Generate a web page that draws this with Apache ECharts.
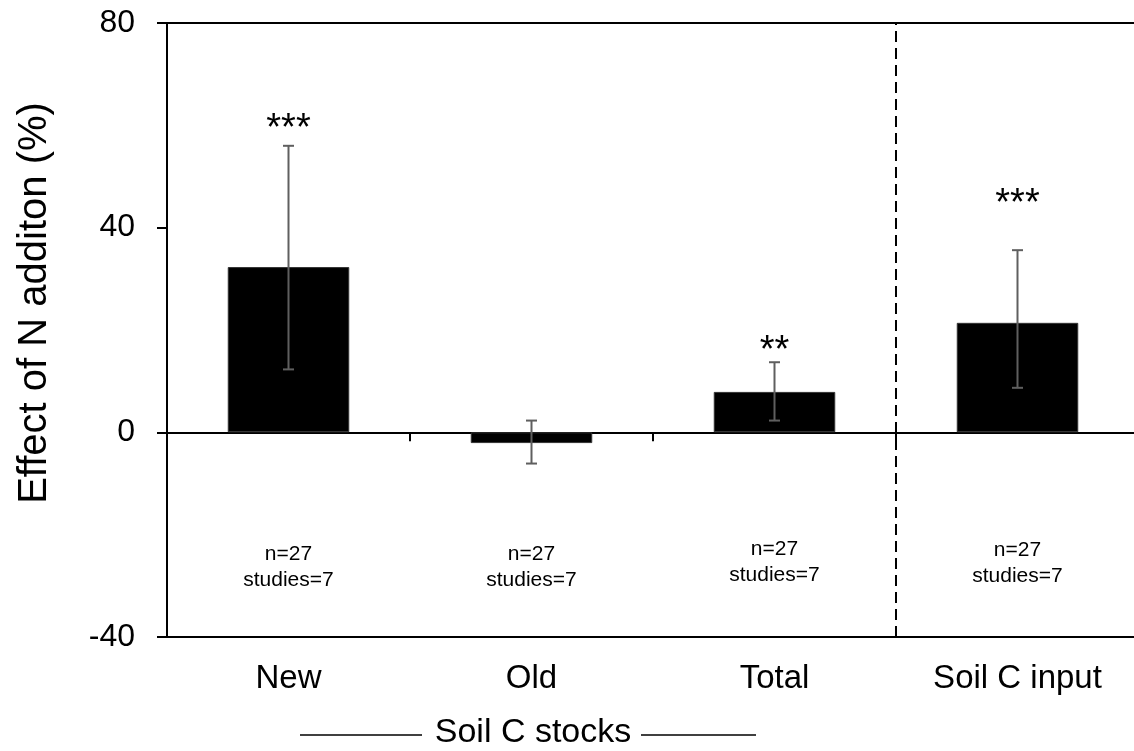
<!DOCTYPE html>
<html><head><meta charset="utf-8">
<script src="https://cdn.jsdelivr.net/npm/echarts@6/dist/echarts.min.js"></script>
<style>html,body{margin:0;padding:0;background:#fff;overflow:hidden}#c{width:1140px;height:751px}</style>
</head><body><div id="c"></div>
<script>
// ---- data ----
const categories = ['New', 'Old', 'Total', 'Soil C input'];
const effect = [32.3, -2.1, 7.9, 21.4];
const ciLow = [12.3, -6.1, 2.3, 8.7];
const ciHigh = [56.0, 2.3, 13.7, 35.6];
const stars = ['***', '', '**', '***'];
const starY = [59.2, null, 15.7, 44.6];
const nText = ['n=27', 'n=27', 'n=27', 'n=27'];
const studiesText = ['studies=7', 'studies=7', 'studies=7', 'studies=7'];
const noteY = [-26.3, -26.3, -25.4, -25.6];
const yMin = -40, yMax = 80, yStep = 40;
const dividerAt = 3; // boundary between "Total" and "Soil C input"

const FONT = '"Liberation Sans", Arial, Helvetica, sans-serif';
const chart = echarts.init(document.getElementById('c'));

const option = {
  animation: false,
  backgroundColor: '#fff',
  textStyle: { fontFamily: FONT },
  grid: { left: 167, right: 1, top: 23, bottom: 114, show: true, borderColor: '#000', borderWidth: 2 },
  xAxis: [
    {
      type: 'category', data: categories, position: 'bottom',
      axisLine: { show: false, onZero: false }, axisTick: { show: false },
      axisLabel: { fontSize: 33, color: '#000', margin: 25, fontFamily: FONT }
    },
    {
      type: 'category', data: categories, position: 'bottom',
      axisLine: { show: true, onZero: true, lineStyle: { color: '#000', width: 2 } },
      axisTick: { show: true, length: 9, lineStyle: { color: '#000', width: 2 } },
      axisLabel: { show: false }
    },
    { type: 'value', min: 0, max: categories.length, show: false, position: 'top' }
  ],
  yAxis: {
    type: 'value', min: yMin, max: yMax, interval: yStep,
    axisLine: { show: true, onZero: false, lineStyle: { color: '#000', width: 2 } },
    axisTick: { show: true, length: 10, lineStyle: { color: '#000', width: 2 } },
    axisLabel: { fontSize: 32, color: '#000', margin: 32, fontFamily: FONT },
    splitLine: { show: false }
  },
  series: [
    {
      type: 'bar', xAxisIndex: 0, data: effect, barWidth: '50%',
      itemStyle: { color: '#000', borderColor: '#333', borderWidth: 1 }, z: 2
    },
    {
      type: 'custom', xAxisIndex: 0, z: 5,
      data: categories.map((c, i) => [i, ciLow[i], ciHigh[i]]),
      renderItem: function (params, api) {
        const lo = api.coord([api.value(0), api.value(1)]);
        const hi = api.coord([api.value(0), api.value(2)]);
        const w = 5.5;
        const st = { stroke: '#5f5f5f', lineWidth: 2 };
        return {
          type: 'group', children: [
            { type: 'line', shape: { x1: hi[0], y1: hi[1], x2: lo[0], y2: lo[1] }, style: st },
            { type: 'line', shape: { x1: hi[0] - w, y1: hi[1], x2: hi[0] + w, y2: hi[1] }, style: st },
            { type: 'line', shape: { x1: lo[0] - w, y1: lo[1], x2: lo[0] + w, y2: lo[1] }, style: st }
          ]
        };
      }
    },
    {
      type: 'scatter', xAxisIndex: 0, symbolSize: 0, z: 6,
      itemStyle: { color: '#000', opacity: 1 },
      data: categories.map((c, i) => [i, starY[i]]).filter(d => d[1] !== null),
      label: {
        show: true, position: 'inside', color: '#000', opacity: 1, fontSize: 38, fontFamily: FONT,
        textBorderWidth: 0, textShadowBlur: 0,
        formatter: p => stars[p.data[0]]
      }
    },
    {
      type: 'scatter', xAxisIndex: 0, symbolSize: 0, z: 6,
      itemStyle: { color: '#000', opacity: 1 },
      data: categories.map((c, i) => [i, noteY[i]]),
      label: {
        show: true, position: 'inside', color: '#000', opacity: 1, fontSize: 21, lineHeight: 26, fontFamily: FONT,
        textBorderWidth: 0, textShadowBlur: 0,
        formatter: p => nText[p.data[0]] + '\n' + studiesText[p.data[0]]
      }
    },
    {
      type: 'line', xAxisIndex: 2, symbol: 'none', z: 4,
      data: [[dividerAt, yMin], [dividerAt, yMax]],
      lineStyle: { color: '#000', width: 2, type: [11, 6] }
    }
  ],
  graphic: [
    {
      type: 'text', x: 35, y: 303, rotation: Math.PI / 2,
      style: { text: 'Effect of N additon (%)', font: '40px ' + FONT, fill: '#000', textAlign: 'center', textVerticalAlign: 'middle' }
    },
    {
      type: 'text', x: 533, y: 733,
      style: { text: 'Soil C stocks', font: '34px ' + FONT, fill: '#000', textAlign: 'center', textVerticalAlign: 'middle' }
    },
    { type: 'line', shape: { x1: 300, y1: 735, x2: 422, y2: 735 }, style: { stroke: '#000', lineWidth: 1.5 } },
    { type: 'line', shape: { x1: 641, y1: 735, x2: 756, y2: 735 }, style: { stroke: '#000', lineWidth: 1.5 } }
  ]
};
chart.setOption(option);
</script>
</body></html>
